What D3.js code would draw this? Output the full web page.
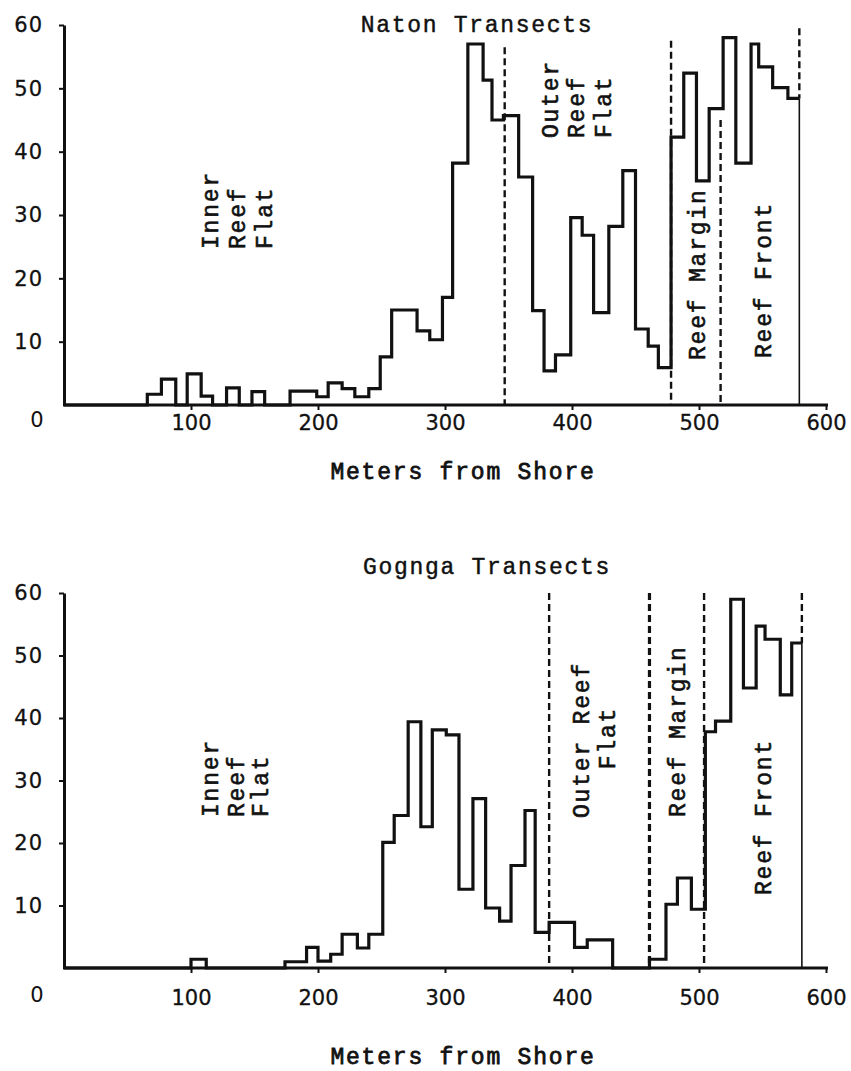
<!DOCTYPE html>
<html>
<head>
<meta charset="utf-8">
<script src="https://cdn.jsdelivr.net/npm/d3@7"></script>
<style>
  body { margin: 0; background: #fff; }
  .tw { font-family: "Liberation Mono", "Courier New", monospace; fill: #111; stroke: #111; stroke-width: 0.45px; }
  .tick text { font-family: "DejaVu Sans", sans-serif; fill: #111; }
</style>
</head>
<body>
<div id="chart"></div>
<script>
// Naton transects: bin edges (m from shore) and values per bin
var natonEdges = [0, 65.6, 76.7, 88, 97, 108, 117, 128, 138, 148, 158, 178, 199, 208, 219, 229, 240, 249, 258, 278, 288, 298, 306, 318, 330, 337, 346, 358, 369, 378, 387, 399, 408, 417, 429, 440, 450, 460, 468, 478, 488, 498, 508, 519, 529, 541, 547, 558, 570, 579];
var natonValues = [0, 1.7, 4.1, 0, 4.9, 1.4, 0, 2.7, 0, 2.1, 0, 2.2, 1.3, 3.5, 2.6, 1.3, 2.6, 7.6, 15, 11.7, 10.3, 17, 38.2, 57, 51.3, 45, 45.7, 36, 14.9, 5.4, 7.9, 29.6, 26.8, 14.6, 28.2, 37, 12, 9.3, 5.9, 42.3, 52.4, 35.4, 46.8, 58, 38.2, 57, 53.4, 50.1, 48.4];
// zone boundaries (m) and the value where each dashed line starts
var natonZones = [347, 478, 517, 579];
var natonZoneTops = [56.5, 57.5, 45, 59.5];

// Gognga transects
var gogngaEdges = [0, 100, 112, 174, 191, 200, 210, 219, 231, 240, 251, 260, 271, 281, 290, 301, 311, 322, 332, 343, 352, 363, 371, 382, 402, 412, 432, 461, 474, 483, 494, 505, 513, 525, 535, 545, 552, 564, 573, 581];
var gogngaValues = [0, 1.4, 0, 1.0, 3.3, 1.1, 2.2, 5.4, 3.2, 5.4, 20.1, 24.4, 39.4, 22.6, 38.1, 37.3, 12.6, 27.1, 9.6, 7.5, 16.4, 25.2, 5.7, 7.3, 3.3, 4.5, 0, 1.4, 10.2, 14.4, 9.4, 37.8, 39.5, 59, 44.8, 54.7, 52.6, 43.7, 52];
var gogngaZones = [382, 461, 504, 581];
var gogngaZoneTops = [60, 60, 60, 60];

var xTicks = [100, 200, 300, 400, 500, 600];
var yTicks = [10, 20, 30, 40, 50, 60];

var svg = d3.select("#chart").append("svg")
    .attr("width", 851)
    .attr("height", 1071)
    .style("background", "#fff");

function drawPanel(opt) {
    var x = d3.scaleLinear().domain([0, 600]).range([64, 826]);
    var y = d3.scaleLinear().domain([0, 60]).range(opt.yRange);
    var g = svg.append("g");

    // step outline
    var pts = opt.edges.map(function(e, i) {
        return [e, i < opt.values.length ? opt.values[i] : 0];
    });
    var lastEdge = opt.edges[opt.edges.length - 1];
    pts[pts.length - 1] = [lastEdge, opt.values[opt.values.length - 1]];

    g.append("path")
        .datum(pts)
        .attr("fill", "none")
        .attr("stroke", "#111")
        .attr("stroke-width", 3.2)
        .attr("stroke-linejoin", "miter")
        .attr("d", d3.line().x(d => x(d[0])).y(d => y(d[1])).curve(d3.curveStepAfter));

    // thin closing line at the end of the transect
    g.append("line")
        .attr("x1", x(lastEdge)).attr("x2", x(lastEdge))
        .attr("y1", y(opt.values[opt.values.length - 1])).attr("y2", y(0))
        .attr("stroke", "#111").attr("stroke-width", 1.6);

    // zone boundaries
    opt.zones.forEach(function(z, i) {
        var bottom = (i === opt.zones.length - 1) ? opt.values[opt.values.length - 1] : 0;
        g.append("line")
            .attr("x1", x(z)).attr("x2", x(z))
            .attr("y1", y(opt.zoneTops[i])).attr("y2", y(bottom))
            .attr("stroke", "#111")
            .attr("stroke-width", opt.thick && opt.thick[i] ? 3.2 : 2.4)
            .attr("stroke-dasharray", "7,4");
    });

    // axes
    var xAxis = g.append("g")
        .attr("transform", "translate(0," + y(0) + ")")
        .call(d3.axisBottom(x).tickValues(xTicks).tickSize(5).tickSizeOuter(0).tickPadding(opt.xPad));
    var yAxis = g.append("g")
        .attr("transform", "translate(" + x(0) + ",0)")
        .call(d3.axisLeft(y).tickValues(yTicks).tickSize(5).tickSizeOuter(0).tickPadding(16));

    [xAxis, yAxis].forEach(function(a) {
        a.select(".domain").attr("stroke", "#111").attr("stroke-width", 3);
        a.selectAll(".tick line").attr("stroke", "#111").attr("stroke-width", 2);
        a.selectAll(".tick text").attr("font-size", 21).attr("stroke", "#111").attr("stroke-width", 0.3);
    });
    xAxis.select(".domain").attr("d", "M" + (x(0) - 1) + ",0H828");
    yAxis.selectAll(".tick text").attr("letter-spacing", 1);

    // origin label
    g.append("text")
        .attr("x", 37).attr("y", opt.zeroY)
        .attr("text-anchor", "middle")
        .attr("dominant-baseline", "central")
        .attr("font-family", "DejaVu Sans, sans-serif")
        .attr("font-size", 21)
        .attr("fill", "#111")
        .text("0");

    // title and axis title
    g.append("text").attr("class", "tw")
        .attr("x", opt.titleX).attr("y", opt.titleY)
        .attr("text-anchor", "middle")
        .attr("font-size", 23).attr("letter-spacing", 1.7)
        .text(opt.title);
    g.append("text").attr("class", "tw")
        .attr("x", 463).attr("y", opt.xTitleY)
        .attr("text-anchor", "middle")
        .attr("font-size", 23).attr("letter-spacing", 1.8)
        .style("stroke-width", "0.8px")
        .text("Meters from Shore");

    // rotated zone labels
    opt.labels.forEach(function(l) {
        g.append("text").attr("class", "tw")
            .attr("transform", "translate(" + l[1] + "," + l[2] + ") rotate(-90)")
            .attr("text-anchor", l[3])
            .attr("dominant-baseline", "central")
            .attr("font-size", 23).attr("letter-spacing", 1.8)
            .style("stroke-width", "0.6px")
            .text(l[0]);
    });
}

drawPanel({
    edges: natonEdges, values: natonValues,
    zones: natonZones, zoneTops: natonZoneTops,
    yRange: [405, 25], xPad: 5, zeroY: 420,
    title: "Naton Transects", titleX: 477, titleY: 32, xTitleY: 479,
    labels: [
        ["Inner", 212, 249, "start"], ["Reef", 239, 249, "start"], ["Flat", 266, 249, "start"],
        ["Outer", 552, 138, "start"], ["Reef", 578, 138, "start"], ["Flat", 605, 138, "start"],
        ["Reef Margin", 699, 360, "start"],
        ["Reef Front", 765, 358, "start"]
    ]
});

drawPanel({
    edges: gogngaEdges, values: gogngaValues,
    zones: gogngaZones, zoneTops: gogngaZoneTops, thick: [false, true, false, false],
    yRange: [968, 593], xPad: 17, zeroY: 995,
    title: "Gognga Transects", titleX: 487, titleY: 574, xTitleY: 1064,
    labels: [
        ["Inner", 212, 817, "start"], ["Reef", 238, 817, "start"], ["Flat", 262, 817, "start"],
        ["Outer Reef", 583, 740, "middle"], ["Flat", 609, 738, "middle"],
        ["Reef Margin", 679, 817, "start"],
        ["Reef Front", 765, 895, "start"]
    ]
});
</script>
</body>
</html>
